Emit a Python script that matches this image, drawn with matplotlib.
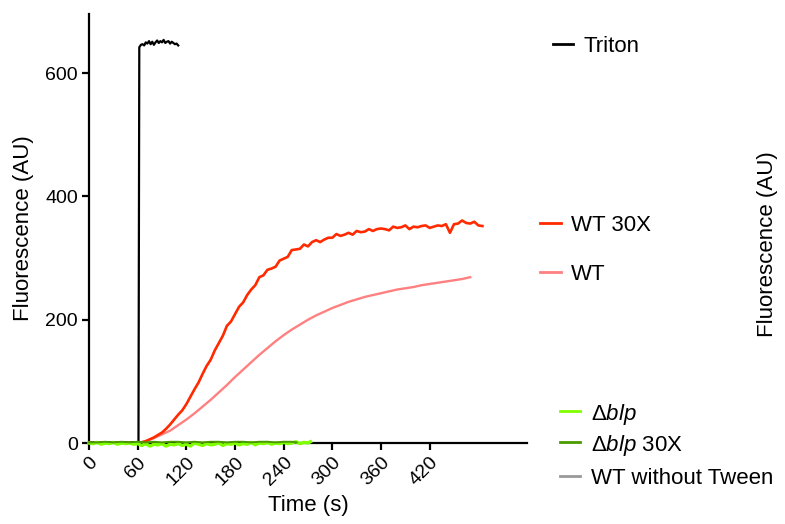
import matplotlib
matplotlib.use("Agg")
import matplotlib.pyplot as plt
from matplotlib.lines import Line2D

plt.rcParams['font.family'] = ['Liberation Sans', 'DejaVu Sans']
plt.rcParams['mathtext.fontset'] = 'custom'
plt.rcParams['mathtext.rm'] = 'Liberation Sans'
plt.rcParams['mathtext.it'] = 'Liberation Sans:italic'

# ---------------- data ----------------
triton_t = [0, 10, 20, 30, 40, 50, 58, 61, 62, 64, 66, 68, 70, 72, 74, 76, 78, 80, 82, 84,
            86, 88, 90, 92, 94, 96, 98, 100, 102, 104, 106, 108, 110]
triton_y = [1, 0, 1, 1, 0, 1, 1, 1, 642, 646, 647, 645, 650, 648, 652, 647, 651, 646, 650, 653,
            649, 652, 650, 654, 649, 651, 652, 648, 651, 649, 647, 648, 645]

wt30_t = [0, 10, 20, 30, 40, 50, 55, 60, 65, 70, 75, 80, 85, 90, 95, 100, 105, 110, 115, 120,
          125, 130, 135, 140, 145, 150, 155, 160, 165, 170, 175, 180, 185, 190, 195, 200,
          205, 210, 215, 220, 225, 230, 235, 240, 245, 250, 255, 260, 265, 270, 275, 280,
          285, 290, 295, 300, 305, 310, 315, 320, 325, 330, 335, 340, 345, 350, 355, 360,
          365, 370, 375, 380, 385, 390, 395, 400, 405, 410, 415, 420, 425, 430, 435, 440,
          445, 450, 455, 460, 465, 470, 475, 480, 485]
wt30_y = [1, 0, 1, 1, 0, 1, 1, 0, 1, 3, 6, 9, 13, 17, 23, 30, 38, 46, 53, 63,
          75, 87, 98, 112, 125, 135, 150, 162, 174, 190, 197, 209, 221, 228, 240, 249,
          256, 269, 272, 281, 283, 286, 296, 299, 302, 313, 314, 315, 322, 319, 326, 329,
          326, 330, 333, 333, 339, 336, 338, 341, 338, 344, 342, 343, 347, 344, 347, 348,
          347, 345, 351, 349, 350, 353, 347, 351, 350, 352, 353, 349, 351, 353, 352, 355,
          341, 355, 356, 361, 357, 356, 359, 353, 352]

wt_t = [0, 20, 40, 60, 70, 80, 90, 100, 110, 120, 130, 140, 150, 160, 170, 180, 190, 200,
        210, 220, 230, 240, 250, 260, 270, 280, 290, 300, 310, 320, 330, 340, 350, 360,
        370, 380, 390, 400, 410, 420, 430, 440, 450, 460, 470]
wt_y = [0, 0, 0, 0, 3, 8, 14, 20, 29, 38, 48, 59, 70, 82, 94, 107, 119, 131,
        143, 154, 165, 175, 184, 192, 200, 207, 213, 219, 224, 229, 233, 237, 240, 243,
        246, 249, 251, 253, 256, 258, 260, 262, 264, 266, 269]

dblp_t = [0, 5, 10, 15, 20, 25, 30, 35, 40, 45, 50, 55, 60, 65, 70, 75, 80, 85, 90, 95, 100,
          105, 110, 115, 120, 125, 130, 135, 140, 145, 150, 155, 160, 165, 170, 175, 180,
          185, 190, 195, 200, 205, 210, 215, 220, 225, 230, 235, 240, 245, 250, 255, 260,
          265, 270, 273]
dblp_y = [0, -1, 1, -2, 0, -1, 1, -2, 0, -1, 0, -2, -1, -4, -1, -5, -2, -3, -1, -5, -2,
          -3, -1, -4, -2, -5, 0, -2, -4, -1, -3, -2, 0, -4, -1, -2, 0, -3, -1, -2, 1,
          -3, 0, -1, 1, -2, 0, -1, 1, -1, 0, 2, -1, 1, 0, 2]

dblp30_t = [0, 10, 20, 30, 40, 50, 60, 70, 80, 90, 100, 110, 120, 130, 140, 150, 160, 170,
            180, 190, 200, 210, 220, 230, 240, 250, 256]
dblp30_y = [1, 1, 2, 1, 2, 1, 2, 1, 2, 1, 2, 2, 1, 2, 1, 2, 2, 1, 2, 2, 1, 2, 2, 1, 2, 2, 1]

notween_t = [0, 10, 20, 30, 40, 50, 60]
notween_y = [0, 1, 0, 1, 0, 1, 0]

series_labels = ['Triton', 'WT 30X', 'WT', r'$\Delta\mathit{blp}$',
                 r'$\Delta\mathit{blp}$ 30X', 'WT without Tween']
xticks = [0, 60, 120, 180, 240, 300, 360, 420]
yticks = [0, 200, 400, 600]

# ---------------- figure ----------------
fig = plt.figure(figsize=(7.85, 5.24), dpi=100)
ax = fig.add_axes([89 / 785, 1 - 443 / 524, (527 - 89) / 785, (443 - 14) / 524])

colors = ['#000000', '#FF2A00', '#FF8080', '#80FF00', '#4A9A00', '#999999']
lw = 1.6
ax.plot(notween_t, notween_y, color=colors[5], lw=lw, zorder=1)
ax.plot(wt_t, wt_y, color=colors[2], lw=1.7, zorder=2)
ax.plot(wt30_t, wt30_y, color=colors[1], lw=1.9, zorder=3)
ax.plot(triton_t, triton_y, color=colors[0], lw=lw, zorder=4)
ax.plot(dblp_t, dblp_y, color=colors[3], lw=2.4, zorder=5, clip_on=False)
ax.plot(dblp30_t, dblp30_y, color=colors[4], lw=1.4, zorder=6, clip_on=False)

ax.set_xlim(0, 540)
ax.set_ylim(0, 696)
ax.set_xticks(xticks)
ax.set_yticks(yticks)
ax.set_xticklabels([str(v) for v in xticks], rotation=45, ha='right', va='top',
                   rotation_mode='anchor')
for s in ['top', 'right']:
    ax.spines[s].set_visible(False)
for s in ['left', 'bottom']:
    ax.spines[s].set_linewidth(1.6)
    ax.spines[s].set_zorder(0.5)
ax.tick_params(axis='both', direction='out', length=5, width=1.6, labelsize=14, pad=3)
ax.set_xlabel('Time (s)', fontsize=16, labelpad=4)
ax.set_ylabel('Fluorescence (AU)', fontsize=16, labelpad=8)

fig.text(767 / 785, 1 - 244 / 524, 'Fluorescence (AU)', rotation=90, fontsize=16,
         ha='center', va='center')

# legend entries placed individually
W, H = 785, 524
entries = [  # (x0, x1, text_x, y)
    (553, 573, 584, 44),
    (540, 561, 571, 223),
    (540, 561, 571, 272),
    (560, 580, 591, 411),
    (560, 580, 591, 442),
    (560, 580, 591, 476),
]
for (x0, x1, tx, y), lab, c in zip(entries, series_labels, colors):
    fig.add_artist(Line2D([x0 / W, x1 / W], [1 - y / H, 1 - y / H], color=c, lw=2.0,
                          transform=fig.transFigure))
    fig.text(tx / W, 1 - y / H, lab, fontsize=16, ha='left', va='center_baseline')

fig.savefig('out.png', dpi=100)
